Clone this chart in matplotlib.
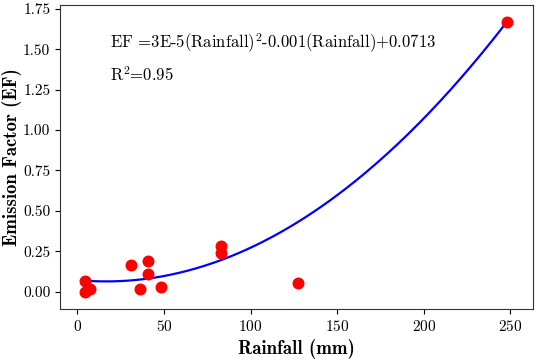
import matplotlib
matplotlib.use("Agg")
import matplotlib.pyplot as plt
import numpy as np

plt.rcParams["font.family"] = "serif"
plt.rcParams["font.serif"] = ["cmr10"]
plt.rcParams["mathtext.fontset"] = "cm"
plt.rcParams["axes.formatter.use_mathtext"] = True

# measured points
rainfall = [4.4, 4.4, 7.3, 31, 36.2, 41, 41, 48.5, 83, 83, 127.2, 248]
ef = [0.068, 0.0, 0.015, 0.165, 0.018, 0.19, 0.11, 0.027, 0.283, 0.24, 0.052, 1.67]

# quadratic fit given on the chart
coef = [3e-5, -0.001, 0.0713]
fit_x = np.linspace(5, 248, 200)
fit_y = np.polyval(coef, fit_x)

fig, ax = plt.subplots(figsize=(5.36, 3.6), dpi=100)
ax.scatter(rainfall, ef, s=58, color="red", zorder=3)
ax.plot(fit_x, fit_y, color="blue", linewidth=1.6, zorder=2)

ax.text(19, 1.535, r"EF =3E-5(Rainfall)$^2$-0.001(Rainfall)+0.0713", fontsize=12, va="center")
ax.text(19, 1.34, r"R$^2$=0.95", fontsize=12, va="center")

ax.set_xlim(-10, 263)
ax.set_ylim(-0.107, 1.773)
ax.set_xticks([0, 50, 100, 150, 200, 250])
ax.set_yticks([0, 0.25, 0.5, 0.75, 1.0, 1.25, 1.5, 1.75])
ax.set_yticklabels(["0.00", "0.25", "0.50", "0.75", "1.00", "1.25", "1.50", "1.75"])
ax.tick_params(labelsize=11)

ax.set_xlabel("Rainfall (mm)", fontsize=13.5, family="cmb10")
ax.set_ylabel("Emission Factor (EF)", fontsize=13.5, family="cmb10", labelpad=1)

for s in ax.spines.values():
    s.set_color("#333333")

fig.subplots_adjust(left=0.112, right=0.994, top=0.986, bottom=0.142)
fig.savefig("out.png", dpi=100)
